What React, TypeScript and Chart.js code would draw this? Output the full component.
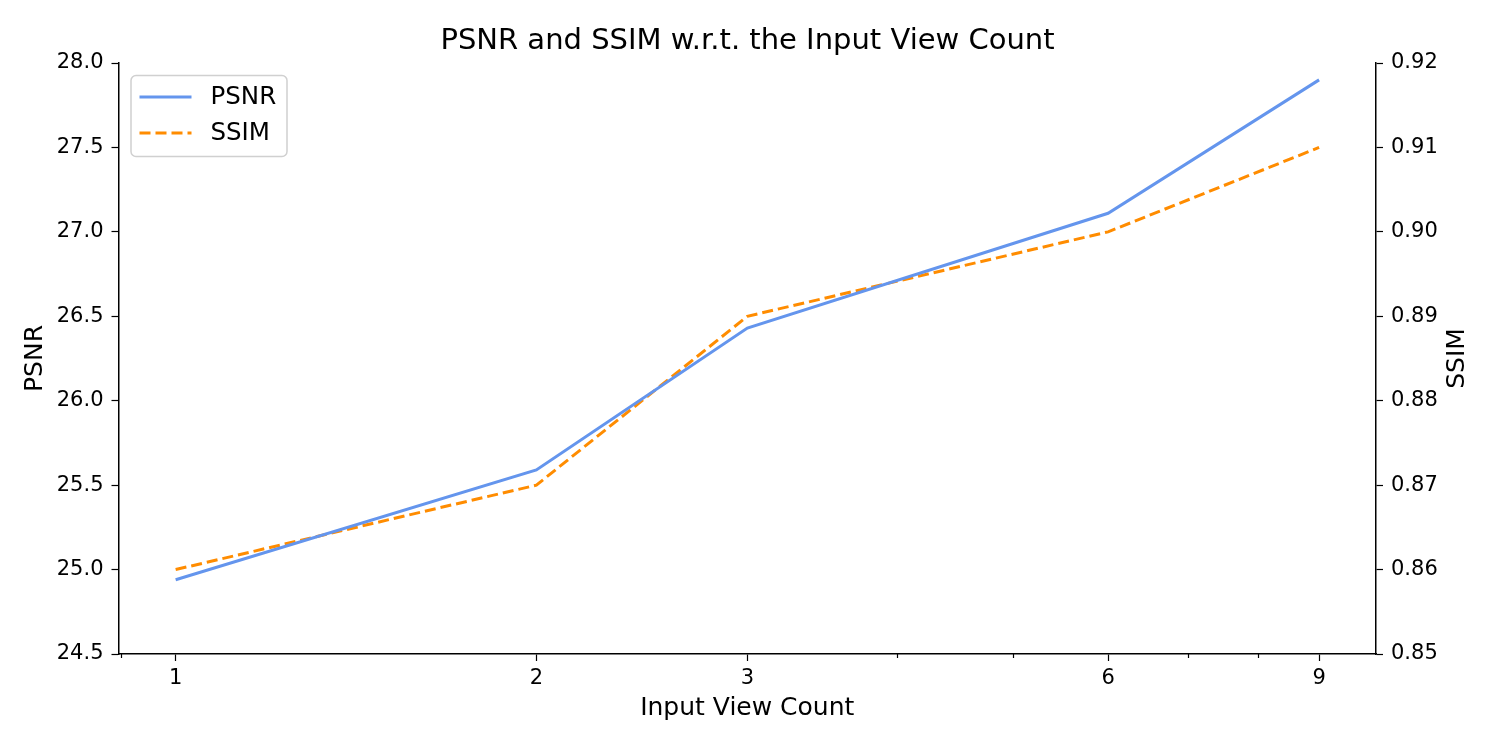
import React, { useEffect, useRef } from "react";
import { Chart, registerables } from "chart.js";

Chart.register(...registerables);

const VIEW_COUNTS = [1, 2, 3, 6, 9];
const PSNR_VALUES = [24.94, 25.59, 26.43, 27.11, 27.9];
const SSIM_VALUES = [0.86, 0.87, 0.89, 0.9, 0.91];
const X_MAJOR_TICKS = [1, 2, 3, 6, 9];
const X_MINOR_TICKS = [0.9, 4, 5, 7, 8];

const FONT = "'DejaVu Sans', sans-serif";
const BLUE = "#6495ED";
const ORANGE = "#FF8C00";

const decorPlugin = {
  id: "decor",
  afterDraw(chart: any) {
    const { ctx, chartArea, scales } = chart;
    const x = scales.x;
    ctx.save();
    // minor ticks
    ctx.strokeStyle = "#000";
    ctx.lineWidth = 1.2;
    for (const v of X_MINOR_TICKS) {
      const px = Math.round(x.getPixelForValue(v)) + 0.5;
      ctx.beginPath();
      ctx.moveTo(px, chartArea.bottom);
      ctx.lineTo(px, chartArea.bottom + 4);
      ctx.stroke();
    }
    // axis titles
    ctx.fillStyle = "#000";
    ctx.font = `25px ${FONT}`;
    ctx.textAlign = "center";
    ctx.textBaseline = "middle";
    const cy = (chartArea.top + chartArea.bottom) / 2;
    ctx.fillText("Input View Count", (chartArea.left + chartArea.right) / 2, chartArea.bottom + 54);
    ctx.save();
    ctx.translate(chartArea.left - 83, cy);
    ctx.rotate(-Math.PI / 2);
    ctx.fillText("PSNR", 0, 0);
    ctx.restore();
    ctx.save();
    ctx.translate(chartArea.right + 81, cy);
    ctx.rotate(-Math.PI / 2);
    ctx.fillText("SSIM", 0, 0);
    ctx.restore();
    // legend
    const lx = chartArea.left + 12;
    const ly = chartArea.top + 12;
    const lw = 156;
    const lh = 81;
    ctx.beginPath();
    ctx.roundRect(lx + 0.5, ly + 0.5, lw, lh, 5);
    ctx.fillStyle = "rgba(255,255,255,0.8)";
    ctx.fill();
    ctx.strokeStyle = "#d0d0d0";
    ctx.lineWidth = 1.5;
    ctx.stroke();
    const items = chart.data.datasets;
    items.forEach((ds: any, i: number) => {
      const yy = ly + 22 + i * 36;
      ctx.beginPath();
      ctx.strokeStyle = ds.borderColor;
      ctx.lineWidth = ds.borderWidth;
      ctx.setLineDash(ds.borderDash || []);
      ctx.moveTo(lx + 9, yy);
      ctx.lineTo(lx + 61, yy);
      ctx.stroke();
      ctx.setLineDash([]);
      ctx.fillStyle = "#000";
      ctx.font = `24.5px ${FONT}`;
      ctx.textAlign = "left";
      ctx.textBaseline = "middle";
      ctx.fillText(ds.label, lx + 80, yy + 1);
    });
    ctx.restore();
  },
};

export default function App() {
  const ref = useRef<HTMLCanvasElement | null>(null);
  useEffect(() => {
    if (!ref.current) return;
    const chart = new Chart(ref.current, {
      type: "line",
      data: {
        datasets: [
          {
            label: "PSNR",
            data: VIEW_COUNTS.map((v, i) => ({ x: v, y: PSNR_VALUES[i] })),
            borderColor: BLUE,
            backgroundColor: BLUE,
            borderWidth: 3,
            pointRadius: 0,
            tension: 0,
            yAxisID: "y",
          },
          {
            label: "SSIM",
            data: VIEW_COUNTS.map((v, i) => ({ x: v, y: SSIM_VALUES[i] })),
            borderColor: ORANGE,
            backgroundColor: ORANGE,
            borderWidth: 3,
            borderDash: [11, 5],
            pointRadius: 0,
            tension: 0,
            yAxisID: "y1",
          },
        ],
      },
      options: {
        animation: false,
        responsive: true,
        maintainAspectRatio: false,
        layout: { padding: 0 },
        plugins: {
          legend: { display: false },
          tooltip: { enabled: false },
          title: {
            display: true,
            text: "PSNR and SSIM w.r.t. the Input View Count",
            color: "#000",
            font: { family: FONT, size: 29, weight: "normal" },
            padding: { top: 24, bottom: 4.2 },
          },
        },
        scales: {
          x: {
            type: "logarithmic",
            min: 0.896,
            max: 10.04,
            afterBuildTicks: (scale: any) => {
              scale.ticks = X_MAJOR_TICKS.map((v) => ({ value: v }));
            },
            afterFit: (scale: any) => {
              scale.height = 93;
            },
            ticks: {
              autoSkip: false,
              maxRotation: 0,
              color: "#000",
              padding: 4.5,
              font: { family: FONT, size: 21 },
              callback: (v: any) => String(v),
            },
            grid: {
              drawOnChartArea: false,
              drawTicks: true,
              tickLength: 7,
              tickColor: "#000",
              tickWidth: 1.2,
            },
            border: { display: true, color: "#000", width: 1.5 },
          },
          y: {
            type: "linear",
            position: "left",
            min: 24.5,
            max: 28,
            afterFit: (scale: any) => {
              scale.width = 118.5;
            },
            ticks: {
              stepSize: 0.5,
              color: "#000",
              padding: 8,
              font: { family: FONT, size: 21 },
              callback: (v: any) => Number(v).toFixed(1),
            },
            grid: {
              drawOnChartArea: false,
              drawTicks: true,
              tickLength: 7,
              tickColor: "#000",
              tickWidth: 1.2,
            },
            border: { display: true, color: "#000", width: 1.5 },
          },
          y1: {
            type: "linear",
            position: "right",
            min: 0.85,
            max: 0.92,
            afterFit: (scale: any) => {
              scale.width = 119;
            },
            ticks: {
              stepSize: 0.01,
              color: "#000",
              padding: 8,
              font: { family: FONT, size: 21 },
              callback: (v: any) => Number(v).toFixed(2),
            },
            grid: {
              drawOnChartArea: false,
              drawTicks: true,
              tickLength: 7,
              tickColor: "#000",
              tickWidth: 1.2,
            },
            border: { display: true, color: "#000", width: 1.5 },
          },
        },
      },
      plugins: [decorPlugin],
    } as any);
    return () => chart.destroy();
  }, []);
  return (
    <div style={{ position: "absolute", left: 0, top: 0, width: 1495, height: 747, background: "#fff" }}>
      <canvas ref={ref} />
    </div>
  );
}
